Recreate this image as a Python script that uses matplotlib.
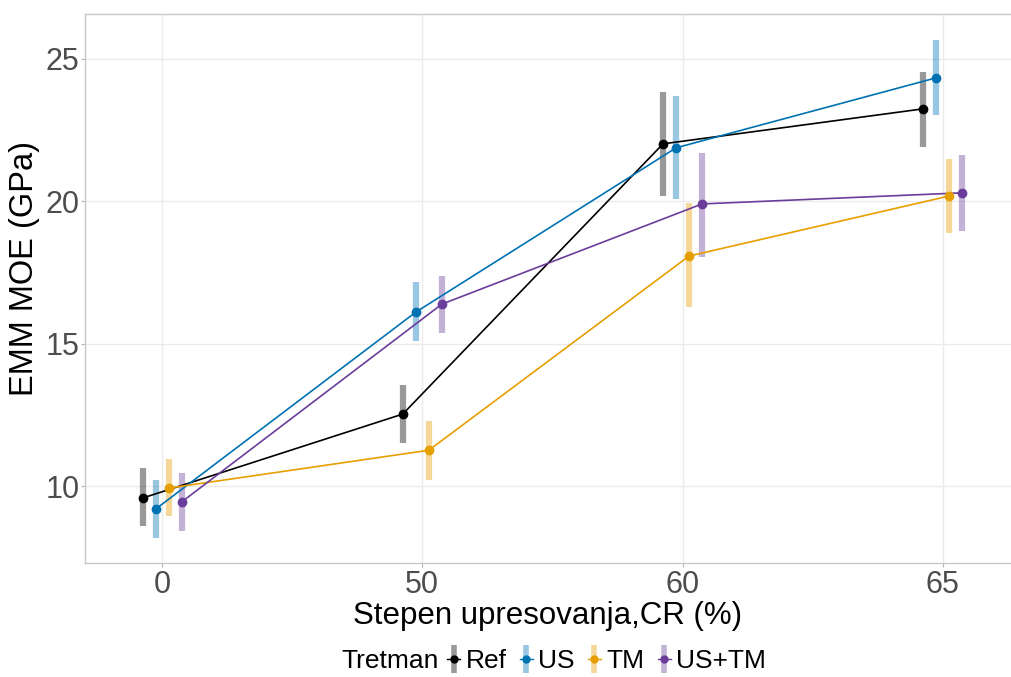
import numpy as np
import matplotlib.pyplot as plt
from matplotlib.lines import Line2D
from matplotlib.legend_handler import HandlerTuple

plt.rcParams['font.family'] = ['Liberation Sans', 'DejaVu Sans']

# --- Data: estimated marginal means with confidence limits ---
cr_levels = ['0', '50', '60', '65']
groups = ['Ref', 'US', 'TM', 'US+TM']
colors = ['#000000', '#0072B2', '#E69F00', '#6A3D9A']

emm_ref = [9.58, 12.53, 22.02, 23.25]
emm_us = [9.19, 16.11, 21.88, 24.34]
emm_tm = [9.93, 11.26, 18.08, 20.19]
emm_ustm = [9.44, 16.39, 19.91, 20.30]

lo_ref = [8.59, 11.51, 20.19, 21.91]
hi_ref = [10.63, 13.55, 23.84, 24.55]
lo_us = [8.17, 15.09, 20.08, 23.04]
hi_us = [10.21, 17.17, 23.70, 25.67]
lo_tm = [8.95, 10.22, 16.29, 18.89]
hi_tm = [10.95, 12.30, 19.94, 21.49]
lo_ustm = [8.42, 15.38, 18.05, 18.96]
hi_ustm = [10.46, 17.38, 21.70, 21.63]

means = [emm_ref, emm_us, emm_tm, emm_ustm]
lows = [lo_ref, lo_us, lo_tm, lo_ustm]
highs = [hi_ref, hi_us, hi_tm, hi_ustm]

dodge = [-0.075, -0.025, 0.025, 0.075]

# --- Plotting ---
fig = plt.figure(figsize=(10.11, 6.77), dpi=100)
ax = fig.add_axes([85 / 1011, (677 - 563) / 677, (1011 - 85) / 1011, (563 - 14) / 677])

x = np.arange(len(cr_levels))
handles = []
for m, lo, hi, col, off, name in zip(means, lows, highs, colors, dodge, groups):
    xs = x + off
    ax.vlines(xs, lo, hi, colors=col, linewidth=4.5, alpha=0.4, zorder=2)
    ax.plot(xs, m, color=col, linewidth=1.2, zorder=3)
    ax.plot(xs, m, 'o', color=col, markersize=6, zorder=4)
    # legend key: translucent bar with the point and a short line on top
    bar = Line2D([], [], color=col, alpha=0.4, marker='|', markersize=20,
                 markeredgewidth=4, linestyle='none')
    pt = Line2D([], [], color=col, marker='o', markersize=5, linewidth=1.0)
    handles.append((bar, pt))

ax.set_xticks(x)
ax.set_xticklabels(cr_levels)
ax.set_yticks([10, 15, 20, 25])
ax.set_xlim(-0.296, 3.262)
ax.set_ylim(7.30, 26.58)

ax.grid(True, color='#EBEBEB', linewidth=1.0)
ax.set_axisbelow(True)
for s in ax.spines.values():
    s.set_color('#C8C8C8')
    s.set_linewidth(1.0)
ax.spines['right'].set_visible(False)

ax.tick_params(axis='both', labelsize=22, colors='#B3B3B3', labelcolor='#4D4D4D',
               length=3, width=0.8)
ax.tick_params(axis='y', pad=1)
ax.tick_params(axis='x', pad=2)
ax.set_xlabel('Stepen upresovanja,CR (%)', fontsize=22.5, labelpad=1)
ax.set_ylabel('EMM MOE (GPa)', fontsize=23.5, va='center')
ax.yaxis.set_label_coords(-60 / 926, 0.537)

fig.text(341 / 1011, 1 - 661 / 677, 'Tretman', fontsize=19, va='center', ha='left')
fig.legend(handles, groups, ncol=4, loc='center left',
           bbox_to_anchor=(447 / 1011, 1 - 661 / 677), frameon=False,
           fontsize=19, handlelength=0.5, handletextpad=0.2, columnspacing=0.5,
           handler_map={tuple: HandlerTuple(ndivide=1, pad=0)},
           borderaxespad=0, borderpad=0)

fig.savefig('out.png', dpi=100)
